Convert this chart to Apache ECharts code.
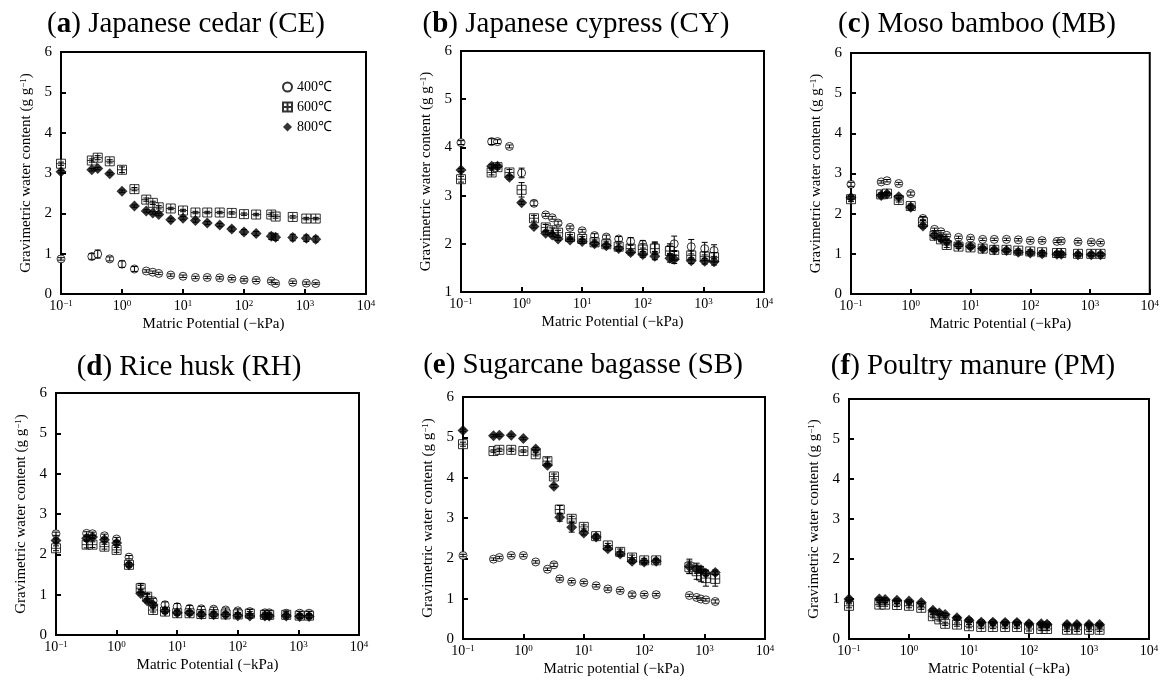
<!DOCTYPE html>
<html>
<head>
<meta charset="utf-8">
<script src="https://cdn.jsdelivr.net/npm/echarts@6/dist/echarts.min.js"></script>
<style>
  html, body { margin: 0; padding: 0; background: #fff; }
  #chart { width: 1162px; height: 684px; }
</style>
</head>
<body>
<div id="chart"></div>
<script>
// Matric potential (-kPa) at which each point was measured
const xMain = [0.1, 0.32, 0.4, 0.63, 1, 1.6, 2.5, 3.2, 4, 6.3, 10, 16, 25, 40, 63, 100, 158, 280, 330, 630, 1050, 1500];
const xSB = [0.1, 0.32, 0.4, 0.63, 1, 1.6, 2.5, 3.2, 4, 6.3, 10, 16, 25, 40, 63, 100, 158, 560, 740, 870, 1050, 1500];
const xPM = [0.1, 0.32, 0.4, 0.63, 1, 1.6, 2.5, 3.2, 4, 6.3, 10, 16, 25, 40, 63, 100, 160, 200, 430, 630, 1000, 1500];

const temps = ['400℃', '600℃', '800℃'];

// (a) Japanese cedar
const ce400 = [0.87, 0.93, 0.99, 0.87, 0.74, 0.62, 0.57, 0.54, 0.51, 0.47, 0.44, 0.41, 0.41, 0.40, 0.38, 0.35, 0.34, 0.32, 0.26, 0.29, 0.27, 0.26];
const ce400Err = [0.03, 0.07, 0.1, 0.05, 0.08, 0.06, 0.03, 0.03, 0.03, 0.03, 0.03, 0.03, 0.03, 0.03, 0.03, 0.03, 0.03, 0.03, 0.02, 0.03, 0.03, 0.02];
const ce600 = [3.23, 3.31, 3.38, 3.29, 3.08, 2.60, 2.34, 2.26, 2.15, 2.12, 2.07, 2.02, 2.02, 2.02, 2.01, 1.98, 1.97, 1.97, 1.92, 1.91, 1.87, 1.87];
const ce600Err = [0.04, 0.04, 0.05, 0.04, 0.07, 0.04, 0.04, 0.04, 0.04, 0.03, 0.03, 0.03, 0.03, 0.03, 0.03, 0.03, 0.03, 0.04, 0.04, 0.03, 0.03, 0.03];
const ce800 = [3.03, 3.08, 3.11, 2.98, 2.55, 2.18, 2.06, 2.01, 1.97, 1.84, 1.88, 1.82, 1.76, 1.71, 1.61, 1.54, 1.50, 1.43, 1.41, 1.40, 1.38, 1.36];
const ce800Err = [0.03, 0.03, 0.03, 0.03, 0.03, 0.03, 0.03, 0.03, 0.03, 0.04, 0.04, 0.04, 0.04, 0.04, 0.05, 0.06, 0.05, 0.08, 0.08, 0.08, 0.08, 0.07];

// (b) Japanese cypress
const cy400 = [4.10, 4.12, 4.12, 4.02, 3.47, 2.84, 2.60, 2.54, 2.43, 2.34, 2.27, 2.17, 2.14, 2.10, 2.05, 1.99, 1.94, 1.90, 2.00, 1.94, 1.90, 1.86];
const cy400Err = [0.04, 0.06, 0.04, 0.03, 0.1, 0.05, 0.03, 0.03, 0.04, 0.03, 0.03, 0.04, 0.04, 0.05, 0.08, 0.08, 0.1, 0.1, 0.16, 0.15, 0.13, 0.12];
const cy600 = [3.34, 3.48, 3.59, 3.48, 3.12, 2.53, 2.34, 2.28, 2.23, 2.14, 2.10, 2.03, 1.99, 1.94, 1.90, 1.88, 1.90, 1.85, 1.76, 1.76, 1.74, 1.72];
const cy600Err = [0.06, 0.05, 0.04, 0.06, 0.15, 0.06, 0.06, 0.05, 0.05, 0.05, 0.05, 0.05, 0.05, 0.06, 0.08, 0.12, 0.12, 0.1, 0.1, 0.09, 0.09, 0.1];
const cy800 = [3.53, 3.61, 3.61, 3.38, 2.85, 2.36, 2.22, 2.18, 2.10, 2.08, 2.05, 2.00, 1.96, 1.90, 1.82, 1.78, 1.74, 1.70, 1.68, 1.65, 1.64, 1.63];
const cy800Err = [0.03, 0.04, 0.03, 0.04, 0.03, 0.03, 0.03, 0.03, 0.03, 0.03, 0.04, 0.04, 0.04, 0.04, 0.05, 0.06, 0.07, 0.08, 0.09, 0.06, 0.06, 0.07];

// (c) Moso bamboo
const mb400 = [2.73, 2.79, 2.82, 2.75, 2.50, 1.88, 1.61, 1.55, 1.46, 1.41, 1.39, 1.36, 1.36, 1.36, 1.35, 1.33, 1.33, 1.31, 1.32, 1.30, 1.29, 1.28];
const mb400Err = [0.05, 0.03, 0.03, 0.03, 0.04, 0.05, 0.03, 0.03, 0.03, 0.03, 0.03, 0.03, 0.03, 0.03, 0.03, 0.03, 0.03, 0.03, 0.03, 0.03, 0.03, 0.03];
const mb600 = [2.36, 2.48, 2.50, 2.34, 2.19, 1.79, 1.45, 1.36, 1.22, 1.18, 1.16, 1.13, 1.10, 1.10, 1.08, 1.06, 1.04, 1.02, 1.02, 1.00, 1.00, 1.00];
const mb600Err = [0.06, 0.04, 0.04, 0.05, 0.05, 0.06, 0.06, 0.06, 0.06, 0.05, 0.04, 0.04, 0.04, 0.04, 0.04, 0.04, 0.04, 0.04, 0.04, 0.04, 0.04, 0.04];
const mb800 = [2.40, 2.45, 2.49, 2.42, 2.16, 1.69, 1.46, 1.39, 1.30, 1.22, 1.18, 1.13, 1.10, 1.08, 1.04, 1.02, 1.00, 0.99, 0.99, 0.98, 0.98, 0.98];
const mb800Err = [0.04, 0.04, 0.04, 0.04, 0.05, 0.05, 0.05, 0.05, 0.05, 0.04, 0.04, 0.04, 0.04, 0.04, 0.04, 0.04, 0.04, 0.04, 0.04, 0.04, 0.04, 0.04];

// (d) Rice husk
const rh400 = [2.51, 2.52, 2.51, 2.46, 2.38, 1.93, 1.18, 0.95, 0.85, 0.75, 0.70, 0.66, 0.65, 0.64, 0.62, 0.60, 0.58, 0.55, 0.55, 0.54, 0.54, 0.54];
const rh400Err = [0.04, 0.04, 0.04, 0.04, 0.04, 0.04, 0.05, 0.05, 0.06, 0.07, 0.08, 0.07, 0.06, 0.05, 0.05, 0.05, 0.05, 0.05, 0.05, 0.04, 0.04, 0.04];
const rh600 = [2.15, 2.24, 2.24, 2.19, 2.11, 1.74, 1.16, 0.95, 0.62, 0.58, 0.54, 0.54, 0.52, 0.52, 0.51, 0.51, 0.53, 0.50, 0.50, 0.50, 0.48, 0.48];
const rh600Err = [0.06, 0.08, 0.07, 0.06, 0.06, 0.05, 0.12, 0.08, 0.05, 0.05, 0.05, 0.05, 0.05, 0.05, 0.05, 0.05, 0.05, 0.05, 0.05, 0.05, 0.05, 0.05];
const rh800 = [2.34, 2.40, 2.43, 2.36, 2.28, 1.74, 1.03, 0.85, 0.75, 0.60, 0.55, 0.55, 0.51, 0.50, 0.50, 0.48, 0.47, 0.47, 0.47, 0.47, 0.46, 0.46];
const rh800Err = [0.04, 0.05, 0.04, 0.04, 0.04, 0.05, 0.04, 0.05, 0.06, 0.05, 0.05, 0.05, 0.05, 0.05, 0.05, 0.05, 0.05, 0.05, 0.05, 0.05, 0.05, 0.05];

// (e) Sugarcane bagasse
const sb400 = [2.07, 1.98, 2.02, 2.07, 2.07, 1.91, 1.73, 1.84, 1.49, 1.42, 1.40, 1.32, 1.24, 1.20, 1.10, 1.10, 1.10, 1.08, 1.03, 0.99, 0.97, 0.93];
const sb400Err = [0.03, 0.03, 0.03, 0.03, 0.03, 0.03, 0.03, 0.04, 0.03, 0.03, 0.03, 0.03, 0.03, 0.03, 0.04, 0.03, 0.03, 0.03, 0.03, 0.03, 0.03, 0.04];
const sb600 = [4.83, 4.66, 4.69, 4.69, 4.66, 4.58, 4.41, 4.03, 3.21, 2.98, 2.78, 2.55, 2.32, 2.16, 2.02, 1.95, 1.95, 1.78, 1.68, 1.57, 1.51, 1.49];
const sb600Err = [0.05, 0.03, 0.04, 0.04, 0.03, 0.04, 0.08, 0.06, 0.1, 0.06, 0.05, 0.05, 0.05, 0.07, 0.06, 0.05, 0.05, 0.15, 0.2, 0.15, 0.2, 0.18];
const sb800 = [5.17, 5.04, 5.05, 5.05, 4.97, 4.71, 4.31, 3.79, 3.02, 2.77, 2.63, 2.53, 2.24, 2.11, 1.93, 1.91, 1.93, 1.80, 1.73, 1.72, 1.63, 1.65];
const sb800Err = [0.03, 0.03, 0.03, 0.03, 0.03, 0.04, 0.04, 0.04, 0.1, 0.12, 0.05, 0.05, 0.05, 0.05, 0.05, 0.04, 0.04, 0.18, 0.1, 0.08, 0.06, 0.06];

// (f) Poultry manure
const pm400 = [0.95, 0.95, 0.94, 0.92, 0.88, 0.85, 0.68, 0.61, 0.56, 0.50, 0.45, 0.40, 0.40, 0.39, 0.39, 0.36, 0.35, 0.35, 0.33, 0.33, 0.33, 0.33];
const pm400Err = [0.03, 0.03, 0.03, 0.03, 0.03, 0.03, 0.03, 0.03, 0.03, 0.03, 0.03, 0.03, 0.03, 0.03, 0.03, 0.03, 0.03, 0.03, 0.03, 0.03, 0.03, 0.03];
const pm600 = [0.83, 0.86, 0.86, 0.85, 0.83, 0.78, 0.57, 0.49, 0.38, 0.36, 0.32, 0.30, 0.30, 0.30, 0.30, 0.25, 0.25, 0.25, 0.23, 0.23, 0.23, 0.23];
const pm600Err = [0.05, 0.04, 0.04, 0.04, 0.05, 0.04, 0.04, 0.04, 0.04, 0.04, 0.04, 0.04, 0.04, 0.04, 0.04, 0.05, 0.04, 0.04, 0.04, 0.04, 0.04, 0.04];
const pm800 = [1.00, 1.00, 0.99, 0.97, 0.95, 0.91, 0.72, 0.65, 0.61, 0.53, 0.47, 0.42, 0.42, 0.41, 0.41, 0.38, 0.38, 0.37, 0.36, 0.36, 0.36, 0.36];
const pm800Err = [0.03, 0.03, 0.03, 0.03, 0.03, 0.03, 0.03, 0.03, 0.03, 0.03, 0.03, 0.03, 0.03, 0.03, 0.03, 0.03, 0.03, 0.03, 0.03, 0.03, 0.03, 0.03];

const panels = [
  { title: '({b|a}) Japanese cedar (CE)', xName: 'Matric Potential (−kPa)', yMin: 0, x: xMain, ys: [ce400, ce600, ce800], errs: [ce400Err, ce600Err, ce800Err] },
  { title: '({b|b}) Japanese cypress (CY)', xName: 'Matric Potential (−kPa)', yMin: 1, x: xMain, ys: [cy400, cy600, cy800], errs: [cy400Err, cy600Err, cy800Err] },
  { title: '({b|c}) Moso bamboo (MB)', xName: 'Matric Potential (−kPa)', yMin: 0, x: xMain, ys: [mb400, mb600, mb800], errs: [mb400Err, mb600Err, mb800Err] },
  { title: '({b|d}) Rice husk (RH)', xName: 'Matric Potential (−kPa)', yMin: 0, x: xMain, ys: [rh400, rh600, rh800], errs: [rh400Err, rh600Err, rh800Err] },
  { title: '({b|e}) Sugarcane bagasse (SB)', xName: 'Matric potential (−kPa)', yMin: 0, x: xSB, ys: [sb400, sb600, sb800], errs: [sb400Err, sb600Err, sb800Err] },
  { title: '({b|f}) Poultry manure (PM)', xName: 'Matric Potential (−kPa)', yMin: 0, x: xPM, ys: [pm400, pm600, pm800], errs: [pm400Err, pm600Err, pm800Err] }
];

// plot boxes and title positions, px
const boxes = [
  { left: 61, top: 52, width: 305, height: 242, tx: 181, ty: 5 },
  { left: 461, top: 51, width: 303, height: 241, tx: 571, ty: 5 },
  { left: 851, top: 53, width: 303, height: 241, tx: 972, ty: 5 },
  { left: 56, top: 393, width: 303, height: 242, tx: 184, ty: 348 },
  { left: 463, top: 397, width: 302, height: 242, tx: 578, ty: 346 },
  { left: 849, top: 399, width: 300, height: 240, tx: 968, ty: 347 }
];

const serif = '"Liberation Serif", "Times New Roman", serif';
const cross = 'path://M0,0H10V10H0ZM5,0V10M0,5H10';
const markers = [
  { symbol: 'circle', symbolSize: 8, itemStyle: { color: '#fff', borderColor: '#000', borderWidth: 1 } },
  { symbol: cross, symbolSize: 9, itemStyle: { color: '#fff', borderColor: '#000', borderWidth: 1 } },
  { symbol: 'diamond', symbolSize: 11, itemStyle: { color: '#000', borderWidth: 0 } }
];

const supRich = {
  b: { fontFamily: serif, fontSize: 14, lineHeight: 14, verticalAlign: 'bottom', color: '#000' },
  sup: { fontFamily: serif, fontSize: 9, lineHeight: 9, padding: [0, 0, 8, 0], verticalAlign: 'top', color: '#000' }
};
const nameRich = {
  n: { fontFamily: serif, fontSize: 15, lineHeight: 15, verticalAlign: 'bottom', color: '#000' },
  sup: { fontFamily: serif, fontSize: 9, lineHeight: 9, padding: [0, 0, 8, 0], verticalAlign: 'top', color: '#000' }
};

function errorBar(params, api) {
  const x = api.value(0), y = api.value(1), e = api.value(2);
  const hi = api.coord([x, y + e]);
  const lo = api.coord([x, y - e]);
  const w = 3;
  const st = { stroke: '#000', lineWidth: 1 };
  return {
    type: 'group',
    children: [
      { type: 'line', shape: { x1: hi[0], y1: hi[1], x2: lo[0], y2: lo[1] }, style: st },
      { type: 'line', shape: { x1: hi[0] - w, y1: hi[1], x2: hi[0] + w, y2: hi[1] }, style: st },
      { type: 'line', shape: { x1: lo[0] - w, y1: lo[1], x2: lo[0] + w, y2: lo[1] }, style: st }
    ]
  };
}

const grid = [], xAxis = [], yAxis = [], series = [], title = [];
const drawOrder = [0, 2, 1];

panels.forEach((p, i) => {
  const b = boxes[i];
  grid.push({ left: b.left, top: b.top, width: b.width, height: b.height, show: true, borderColor: '#000', borderWidth: 2 });
  title.push({
    text: p.title, left: b.tx, top: b.ty, textAlign: 'center',
    textStyle: { fontFamily: serif, fontSize: 29, fontWeight: 'normal', color: '#000',
      rich: { b: { fontFamily: serif, fontSize: 29, fontWeight: 'bold', color: '#000' } } }
  });
  xAxis.push({
    type: 'log', logBase: 10, min: 0.1, max: 10000, splitNumber: 5, gridIndex: i,
    name: p.xName, nameLocation: 'middle', nameGap: 23,
    nameTextStyle: { fontFamily: serif, fontSize: 15, color: '#000' },
    axisLine: { lineStyle: { color: '#000', width: 2 } },
    axisTick: { inside: true, length: 5, lineStyle: { color: '#000', width: 2 } },
    axisLabel: {
      margin: 5, color: '#000', rich: supRich,
      formatter: v => '{b|10}{sup|' + String(Math.round(Math.log10(v))).replace('-', '−') + '}'
    },
    splitLine: { show: false }
  });
  yAxis.push({
    type: 'value', min: p.yMin, max: 6, interval: 1, gridIndex: i,
    name: '{n|Gravimetric water content (g g}{sup|−1}{n|)}', nameLocation: 'middle', nameGap: 27,
    nameTextStyle: { fontFamily: serif, fontSize: 15, color: '#000', rich: nameRich },
    axisLine: { lineStyle: { color: '#000', width: 2 } },
    axisTick: { inside: true, length: 5, lineStyle: { color: '#000', width: 2 } },
    axisLabel: { margin: 9, color: '#000', fontFamily: serif, fontSize: 15 },
    splitLine: { show: false }
  });
  drawOrder.forEach(k => {
    series.push(Object.assign({
      type: 'scatter', name: temps[k], xAxisIndex: i, yAxisIndex: i,
      data: p.x.map((x, j) => [x, p.ys[k][j]]), z: 2 + k * 0.1
    }, markers[k]));
  });
  drawOrder.forEach(k => {
    series.push({
      type: 'custom', xAxisIndex: i, yAxisIndex: i, z: 4, silent: true,
      renderItem: errorBar, encode: { x: 0, y: 1 },
      data: p.x.map((x, j) => [x, p.ys[k][j], p.errs[k][j]])
    });
  });
});

const chart = echarts.init(document.getElementById('chart'));
chart.setOption({
  animation: false,
  backgroundColor: '#fff',
  title: title,
  legend: {
    data: temps, orient: 'vertical', left: 277, top: 75, itemGap: 6, itemWidth: 9, itemHeight: 9,
    textStyle: { fontFamily: serif, fontSize: 14, color: '#000' }
  },
  grid: grid,
  xAxis: xAxis,
  yAxis: yAxis,
  series: series
});
</script>
</body>
</html>
